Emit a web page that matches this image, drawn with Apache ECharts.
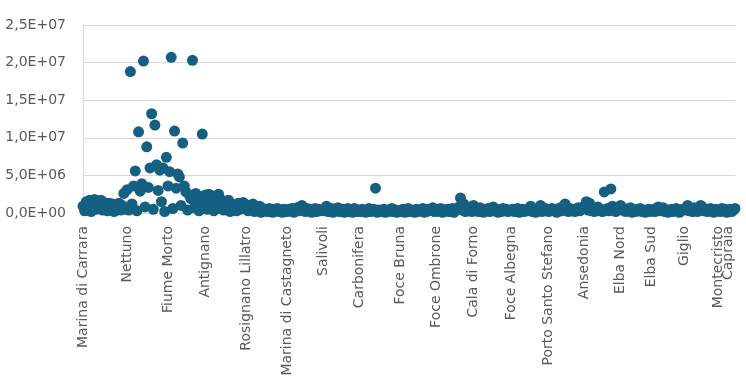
<!DOCTYPE html>
<html><head><meta charset="utf-8">
<script src="https://cdn.jsdelivr.net/npm/echarts@6/dist/echarts.min.js"></script>
<style>html,body{margin:0;padding:0;background:#fff}#c{width:746px;height:386px}</style>
</head><body><div id="c"></div>
<script>
// Values in millions (×1e6), one array per site, in axis order
const UNIT = 1e6;
const siteNames = ["Marina di Carrara","Nettuno","Fiume Morto","Antignano","Rosignano Lillatro","Marina di Castagneto","Salivoli","Carbonifera","Foce Bruna","Foce Ombrone","Cala di Forno","Foce Albegna","Porto Santo Stefano","Ansedonia","Elba Nord","Elba Sud","Giglio","Montecristo","Capraia"];
const vMarinaDiCarrara = [0.9,0.3,1.5,0.6,1.7,0.2,1.2,1.8,0.5,1.6,0.8,1.7,0.4,1.4,1.0,0.3,1.3,0.7,1.2,0.2,1.1,0.6,1.3,0.4,1.0,2.6,0.5];
const vNettuno = [3.1,0.4,18.8,1.2,3.6,5.6,0.3,10.8,2.9,3.9,20.2,0.8,8.8,3.4,6.0,13.2,0.5,11.7,6.4,3.0,5.7,1.5,6.0,0.2,7.4];
const vFiumeMorto = [3.6,5.5,20.7,0.6,10.9,3.3,5.2,4.8,1.0,9.3,3.6,2.8,0.4,2.4,1.9,20.3,0.7,2.6,1.5,0.3,2.2,10.5,1.2];
const vAntignano = [2.4,0.5,2.5,1.1,2.3,0.3,1.8,0.9,2.5,0.6,1.7,0.4,1.5,0.8,1.7,0.2,1.2,0.7,1.0,0.3,1.3,0.5,1.0,1.4,1.1];
const vRosignano = [1.1,0.3,0.9,0.5,1.2,0.2,0.7,0.4,0.9,0.1,0.6,0.3,0.5,0.2,0.6,0.4,0.1,0.5,0.3,0.6,0.2,0.4,0.1,0.5,0.3];
const vCastagneto = [0.2,0.5,0.3,0.6,0.1,0.4,0.7,0.3,0.8,1.0,0.4,0.2,0.6,0.3,0.5,0.1,0.4,0.6,0.2,0.5,0.3,0.4];
const vSalivoli = [0.3,0.5,0.9,0.2,0.4,0.6,0.1,0.5,0.3,0.7,0.2,0.4,0.5,0.1,0.3,0.6,0.2,0.4,0.1,0.6,0.3,0.2];
const vCarbonifera = [0.4,0.2,0.5,0.3,0.1,0.4,0.6,0.2,0.3,0.5,3.3,0.1,0.4,0.2,0.3,0.5,0.1,0.4,0.2,0.3,0.6,0.2,0.4,0.1,0.3];
const vFoceBruna = [0.2,0.4,0.5,0.1,0.3,0.6,0.2,0.4,0.3,0.1,0.5,0.2,0.4,0.3,0.6,0.1,0.2,0.5,0.3,0.4,0.7,0.2];
const vFoceOmbrone = [0.3,0.5,0.2,0.6,0.1,0.4,0.3,0.5,0.2,0.4,0.6,0.1,0.3,0.5,0.8,2.0,0.4,1.2,0.2,0.5,0.3,0.6,0.2];
const vCalaDiForno = [1.0,0.3,0.5,0.2,0.7,0.4,0.1,0.5,0.3,0.6,0.2,0.4,0.8,0.3,0.5,0.1,0.4,0.2,0.6,0.3,0.5,0.2,0.4];
const vFoceAlbegna = [0.3,0.5,0.2,0.4,0.6,0.1,0.3,0.5,0.2,0.4,0.3,0.6,0.9,0.2,0.4,0.1,0.5,0.3,1.0,0.2,0.4,0.6,0.3];
const vPortoSantoStefano = [0.2,0.4,0.6,0.3,0.5,0.1,0.4,0.7,0.3,0.5,1.2,0.4,0.2,0.6,0.3,0.5,0.2,0.4,0.7,0.3,0.5,0.8];
const vAnsedonia = [0.9,1.5,0.4,1.3,0.3,0.6,0.2,0.5,0.8,0.3,0.5,0.2,2.8,0.4,0.6,0.3,3.2,0.9,0.5,0.2,0.4,0.7];
const vElbaNord = [1.0,0.4,0.6,0.2,0.5,0.3,0.7,0.1,0.4,0.2,0.5,0.3,0.6,0.2,0.4,0.1,0.3,0.5,0.2];
const vElbaSud = [0.3,0.5,0.2,0.4,0.8,0.3,0.6,0.7,0.2,0.4,0.1,0.3,0.5,0.2,0.4,0.6,0.3,0.1,0.4,0.5];
const vGiglio = [0.4,0.6,1.0,0.3,0.5,0.2,0.7,0.4,0.2,0.6,1.0,0.8,0.3,0.5,0.2,0.4,0.6,0.3,0.1,0.5,0.3];
const vMontecristo = [0.4,0.2,0.6,0.3,0.5,0.1];
const vCapraia = [0.3,0.5,0.2,0.4,0.6];
const siteValues = [vMarinaDiCarrara,vNettuno,vFiumeMorto,vAntignano,vRosignano,vCastagneto,vSalivoli,vCarbonifera,vFoceBruna,vFoceOmbrone,vCalaDiForno,vFoceAlbegna,vPortoSantoStefano,vAnsedonia,vElbaNord,vElbaSud,vGiglio,vMontecristo,vCapraia];
const yMin = 0, yMax = 25e6, yStep = 5e6;

// build categories + data
const categories = [];
const points = [];
const labelStarts = [];
siteValues.forEach((arr, s) => {
  labelStarts.push(categories.length);
  arr.forEach(v => {
    points.push([categories.length, v * UNIT]);
    categories.push(siteNames[s]);
  });
});
// alternate label sets on two overlaid axes so close labels are not dropped
const setA = new Set(labelStarts.filter((_, k) => k % 2 === 0));
const setB = new Set(labelStarts.filter((_, k) => k % 2 === 1));

function fmtE(v) {
  if (v === 0) return '0,0E+00';
  const e = Math.floor(Math.log10(v) + 1e-9);
  const m = v / Math.pow(10, e);
  return m.toFixed(1).replace('.', ',') + 'E+' + String(e).padStart(2, '0');
}

const labelStyle = {
  rotate: 90,
  margin: 13,
  color: '#595959',
  fontFamily: 'DejaVu Sans',
  fontSize: 14,
  hideOverlap: false
};

const chart = echarts.init(document.getElementById('c'), null, {renderer: 'canvas'});
chart.setOption({
  animation: false,
  backgroundColor: '#ffffff',
  grid: {left: 83, right: 11, top: 25, bottom: 173, containLabel: false, outerBoundsMode: 'none'},
  xAxis: [{
    type: 'category',
    data: categories,
    boundaryGap: false,
    axisLine: {show: true, lineStyle: {color: '#d9d9d9'}},
    axisTick: {show: false},
    splitLine: {show: false},
    axisLabel: Object.assign({interval: (i) => setA.has(i)}, labelStyle)
  }, {
    type: 'category',
    data: categories,
    position: 'bottom',
    boundaryGap: false,
    axisLine: {show: false},
    axisTick: {show: false},
    splitLine: {show: false},
    axisLabel: Object.assign({interval: (i) => setB.has(i)}, labelStyle)
  }],
  yAxis: {
    type: 'value',
    min: yMin, max: yMax, interval: yStep,
    axisLine: {show: true, lineStyle: {color: '#d9d9d9'}},
    axisTick: {show: false},
    splitLine: {show: true, lineStyle: {color: '#d9d9d9', width: 1}},
    axisLabel: {
      formatter: fmtE,
      margin: 17,
      color: '#595959',
      fontFamily: 'DejaVu Sans',
      fontSize: 14
    }
  },
  series: [{
    type: 'scatter',
    xAxisIndex: 0,
    data: points,
    symbol: 'circle',
    symbolSize: 11,
    itemStyle: {color: '#156082', opacity: 1},
    silent: true
  }]
});
</script>
</body></html>
